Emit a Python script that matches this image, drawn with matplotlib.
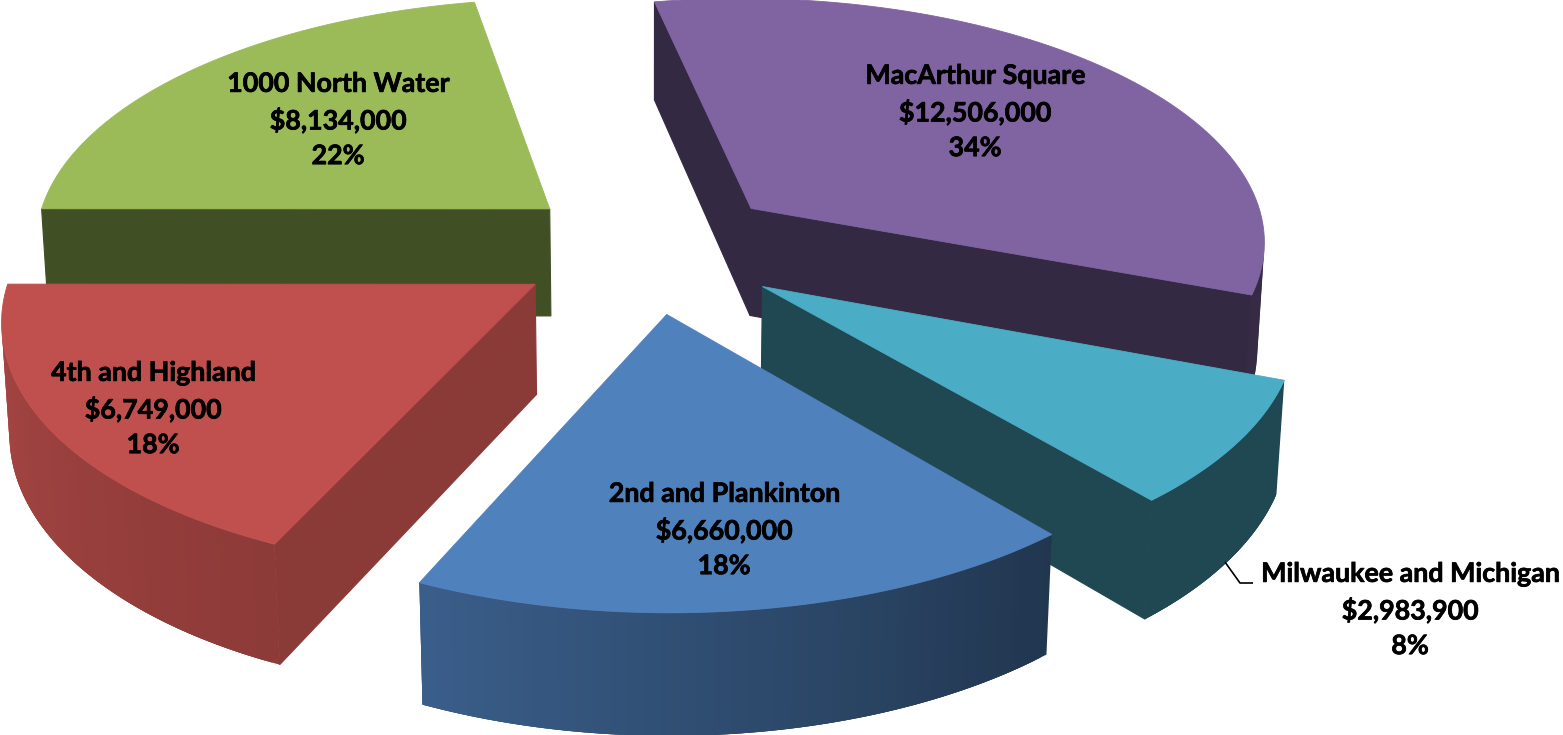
import numpy as np
import matplotlib
matplotlib.use("Agg")
import matplotlib.pyplot as plt
import matplotlib.patheffects as pe
from matplotlib.patches import Polygon
from matplotlib.colors import to_rgb

names = ["MacArthur Square", "Milwaukee and Michigan", "2nd and Plankinton",
         "4th and Highland", "1000 North Water"]
values = [12506000, 2983900, 6660000, 6749000, 8134000]
percents = ["34%", "8%", "18%", "18%", "22%"]
colors = ["#8064A2", "#4BACC6", "#4F81BD", "#C0504D", "#9BBB59"]
radial_shade = [0.41, 0.42, 0.42, 0.72, 0.42]

# label centres in pixels
label_pos = [(975, 112), (1410, 610), (724, 530), (153, 409), (338, 120)]
draw_order = [4, 0, 3, 1, 2]
# small per slice shift in pixels, the exploded slices are not quite regular
nudge = [-1, -1, -3, 1, 2]

# projection (fitted by eye + small search against the reference)
CX, CY = 650.35, 248.91
SX, SY = 518.43, 244.72
PERSP = 0.1215
START = -10.9
EXPLODE = 0.262
DEPTH = 110.0
PERSP_Z = 0.0118
N_ARC = 80


def project(u, v, z, dx=0):
    w = 1 + PERSP * v + PERSP_Z * z
    return CX + dx + SX * u / w, CY - SY * v / w + DEPTH * z / w


def outer_shade(theta):
    return np.interp(theta % 360, [0, 110, 140, 204, 270, 360],
                     [0.42, 0.42, 0.42, 0.73, 0.88, 0.88])


def darker(col, f):
    return tuple(c * f for c in to_rgb(col))


def face(ax, pts, col, lw=0.6):
    ax.add_patch(Polygon(pts, closed=True, facecolor=col, edgecolor=col, linewidth=lw))


def signed_area(pts):
    p = np.array(pts)
    x, y = p[:, 0], p[:, 1]
    return np.sum(x * np.roll(y, -1) - np.roll(x, -1) * y)


def draw_wedge(ax, a0, a1, col, shade, dx):
    mid = np.radians((a0 + a1) / 2)
    ax0, ay0 = EXPLODE * np.sin(mid), EXPLODE * np.cos(mid)
    th = np.linspace(a0, a1, N_ARC)
    rim_u = ax0 + np.sin(np.radians(th))
    rim_v = ay0 + np.cos(np.radians(th))

    def quad(p, q):
        return [project(*p, 0, dx), project(*q, 0, dx), project(*q, 1, dx), project(*p, 1, dx)]

    apex = (ax0, ay0)
    for p, q in [(apex, (rim_u[0], rim_v[0])), ((rim_u[-1], rim_v[-1]), apex)]:
        pts = quad(p, q)
        if signed_area(pts) < 0:
            face(ax, pts, darker(col, shade), lw=0.8)

    # strips overlap the next one so no seam shows between them
    for i in range(N_ARC - 1):
        j = min(i + 3, N_ARC - 1)
        p, q = (rim_u[i], rim_v[i]), (rim_u[i + 1], rim_v[i + 1])
        if signed_area(quad(p, q)) >= 0:
            continue
        c = darker(col, outer_shade((th[i] + th[i + 1]) / 2))
        pts = quad(p, (rim_u[j], rim_v[j]))
        ax.add_patch(Polygon(pts, closed=True, facecolor=c, edgecolor="none"))

    top = [project(ax0, ay0, 0, dx)] + [project(u, v, 0, dx) for u, v in zip(rim_u, rim_v)]
    face(ax, top, col)


fig = plt.figure(figsize=(15.63, 7.35), dpi=100)
ax = fig.add_axes([0, 0, 1, 1])
ax.set_xlim(0, 1563)
ax.set_ylim(735, 0)
ax.axis("off")

angles = START + np.cumsum(np.r_[0, np.array(values, float) / sum(values) * 360])
for i in draw_order:
    draw_wedge(ax, angles[i], angles[i + 1], colors[i], radial_shade[i], nudge[i])

# leader line for the small slice
ax.plot([1225, 1240, 1253], [562, 583, 583], color="black", lw=1.2, solid_capstyle="butt")

for name, val, pct, (x, y) in zip(names, values, percents, label_pos):
    t = ax.text(x, y, f"{name}\n${val:,}\n{pct}", ha="center", va="center",
                family=["Lato", "DejaVu Sans"], fontweight="bold", fontsize=19.3,
                linespacing=1.53, color="black", zorder=10)
    t.set_path_effects([pe.withStroke(linewidth=0.5, foreground="black")])

fig.savefig("out.png", dpi=100)
